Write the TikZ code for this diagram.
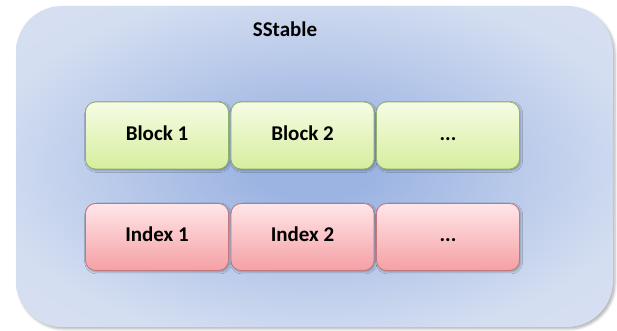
\documentclass[tikz,border=0pt]{standalone}
\usepackage{fontspec}
\setmainfont{Carlito}
\usetikzlibrary{shadows.blur}

\definecolor{panelmid}{RGB}{156,180,226}
\definecolor{paneledge}{RGB}{212,222,241}
\definecolor{greentop}{RGB}{246,252,228}
\definecolor{greenbot}{RGB}{214,238,158}
\definecolor{greenline}{RGB}{146,176,112}
\definecolor{redtop}{RGB}{255,230,233}
\definecolor{redbot}{RGB}{245,160,164}
\definecolor{redline}{RGB}{192,120,124}

\pgfdeclareradialshading{panelglow}{\pgfpoint{0bp}{0bp}}{%
  color(0bp)=(panelmid);
  color(5bp)=(panelmid);
  color(28bp)=(paneledge);
  color(50bp)=(paneledge!85!white);
  color(100bp)=(paneledge!60!white)}

\tikzset{
  x=1pt, y=1pt,
  lbl/.style={font=\fontsize{21}{25}\selectfont\bfseries, text=black,
    text height=14pt, text depth=4pt},
  cell/.style={draw, line width=0.8pt, rounded corners=10pt,
    minimum width=143pt, minimum height=67pt, inner sep=0pt,
    blur shadow={shadow xshift=1.2pt, shadow yshift=-1.5pt,
      shadow blur radius=2pt, shadow opacity=30}},
  blockcell/.style={cell, lbl, draw=greenline,
    top color=greentop, bottom color=greenbot},
  indexcell/.style={cell, lbl, draw=redline,
    top color=redtop, bottom color=redbot},
}

\begin{document}
\begin{tikzpicture}
\useasboundingbox (0,0) rectangle (617,331);

% outer SSTable panel
\path[rounded corners=46pt, shading=panelglow,
  blur shadow={shadow xshift=2pt, shadow yshift=-2pt,
    shadow blur radius=2.5pt, shadow opacity=30}]
  (16,4) rectangle (613,325);
\node[lbl] (title) at (285,299) {SStable};

% data blocks
\node[blockcell] (b1) at (157,195.5) {Block 1};
\node[blockcell] (b2) at (302.5,195.5) {Block 2};
\node[blockcell] (b3) at (448,195.5) {...};

% index entries
\node[indexcell] (i1) at (157,94) {Index 1};
\node[indexcell] (i2) at (302.5,94) {Index 2};
\node[indexcell] (i3) at (448,94) {...};
\end{tikzpicture}
\end{document}
